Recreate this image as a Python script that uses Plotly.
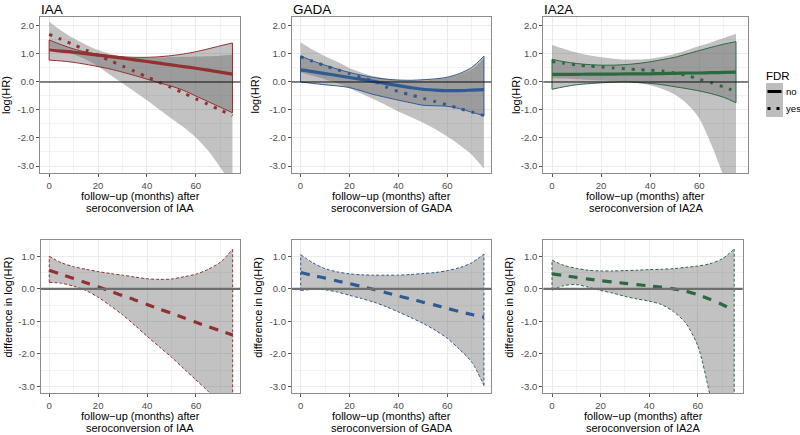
import plotly.graph_objects as go

W, H = 800, 435
FONT = "Liberation Sans, Arial, Helvetica, sans-serif"

# ---------------- data ----------------
months = [0, 5, 10, 15, 20, 25, 30, 35, 40, 45, 50, 55, 60, 65, 70, 75]
markers = ["IAA", "GADA", "IA2A"]
x_ticks = [0, 20, 40, 60]
y_ticks_top = [-3, -2, -1, 0, 1, 2]
y_labels_top = ["-3.0", "-2.0", "-1.0", "0.0", "1.0", "2.0"]
y_ticks_bot = [-3, -2, -1, 0, 1]
y_labels_bot = ["-3.0", "-2.0", "-1.0", "0.0", "1.0"]
fdr_levels = ["no", "yes"]

# top row: log(HR), FDR = no (solid) with CI, FDR = yes (dotted) with CI
iaa_no = [1.15, 1.10, 1.06, 1.01, 0.96, 0.90, 0.85, 0.79, 0.73, 0.67, 0.61, 0.55, 0.49, 0.42, 0.35, 0.28]
iaa_no_hi = [1.50, 1.33, 1.18, 1.07, 0.99, 0.94, 0.90, 0.88, 0.88, 0.90, 0.94, 1.00, 1.08, 1.18, 1.29, 1.39]
iaa_no_lo = [0.78, 0.75, 0.70, 0.63, 0.55, 0.46, 0.35, 0.23, 0.10, -0.03, -0.15, -0.30, -0.50, -0.70, -0.90, -1.10]
iaa_yes = [1.70, 1.52, 1.33, 1.14, 0.95, 0.76, 0.57, 0.38, 0.18, -0.01, -0.20, -0.40, -0.60, -0.80, -1.00, -1.20]
iaa_yes_hi = [2.15, 1.83, 1.56, 1.33, 1.14, 1.00, 0.90, 0.86, 0.86, 0.87, 0.89, 0.90, 0.91, 0.92, 0.94, 0.97]
iaa_yes_lo = [1.25, 1.12, 0.98, 0.80, 0.55, 0.25, -0.05, -0.35, -0.65, -0.98, -1.30, -1.62, -1.98, -2.45, -3.05, -3.70]

gada_no = [0.43, 0.37, 0.30, 0.23, 0.16, 0.09, 0.02, -0.06, -0.13, -0.20, -0.26, -0.29, -0.31, -0.31, -0.29, -0.27]
gada_no_hi = [0.93, 0.75, 0.60, 0.46, 0.34, 0.24, 0.16, 0.10, 0.07, 0.06, 0.08, 0.11, 0.17, 0.30, 0.52, 0.92]
gada_no_lo = [0.00, -0.05, -0.10, -0.14, -0.20, -0.32, -0.45, -0.55, -0.65, -0.74, -0.83, -0.85, -0.87, -0.95, -1.08, -1.20]
gada_yes = [0.90, 0.74, 0.58, 0.44, 0.30, 0.16, 0.03, -0.18, -0.34, -0.46, -0.58, -0.70, -0.82, -0.95, -1.07, -1.20]
gada_yes_hi = [1.42, 1.15, 0.92, 0.72, 0.50, 0.33, 0.20, 0.12, 0.07, 0.04, 0.05, 0.09, 0.15, 0.27, 0.45, 0.85]
gada_yes_lo = [0.35, 0.22, 0.10, -0.05, -0.22, -0.42, -0.62, -0.83, -1.05, -1.25, -1.45, -1.68, -1.95, -2.25, -2.60, -3.10]

ia2a_no = [0.27, 0.27, 0.27, 0.28, 0.28, 0.28, 0.29, 0.29, 0.29, 0.30, 0.31, 0.32, 0.32, 0.33, 0.34, 0.35]
ia2a_no_hi = [0.81, 0.72, 0.66, 0.62, 0.60, 0.60, 0.62, 0.66, 0.72, 0.80, 0.88, 1.00, 1.12, 1.24, 1.35, 1.44]
ia2a_no_lo = [-0.26, -0.17, -0.10, -0.06, -0.03, -0.01, 0.00, -0.02, -0.05, -0.10, -0.17, -0.24, -0.32, -0.42, -0.55, -0.74]
ia2a_yes = [0.73, 0.67, 0.61, 0.57, 0.54, 0.50, 0.47, 0.44, 0.42, 0.39, 0.32, 0.23, 0.10, -0.03, -0.18, -0.35]
ia2a_yes_hi = [1.32, 1.18, 1.05, 0.95, 0.88, 0.83, 0.80, 0.80, 0.83, 0.90, 1.00, 1.13, 1.28, 1.42, 1.57, 1.72]
ia2a_yes_lo = [0.13, 0.12, 0.10, 0.08, 0.05, 0.03, 0.00, -0.04, -0.12, -0.25, -0.45, -0.78, -1.30, -2.25, -3.40, -4.80]

# bottom row: difference in log(HR) with CI
iaa_diff = [0.57, 0.44, 0.32, 0.19, 0.06, -0.07, -0.21, -0.34, -0.48, -0.62, -0.75, -0.89, -1.03, -1.16, -1.29, -1.42]
iaa_diff_hi = [1.00, 0.80, 0.68, 0.60, 0.53, 0.47, 0.42, 0.36, 0.31, 0.29, 0.30, 0.37, 0.45, 0.60, 0.82, 1.22]
iaa_diff_lo = [0.20, 0.17, 0.08, -0.05, -0.26, -0.52, -0.80, -1.12, -1.46, -1.78, -2.10, -2.45, -2.80, -3.15, -3.60, -4.10]

gada_diff = [0.50, 0.41, 0.33, 0.24, 0.16, 0.07, -0.02, -0.12, -0.22, -0.31, -0.41, -0.50, -0.60, -0.70, -0.79, -0.87]
gada_diff_hi = [1.05, 0.80, 0.62, 0.52, 0.46, 0.43, 0.42, 0.42, 0.42, 0.44, 0.47, 0.50, 0.56, 0.65, 0.80, 1.07]
gada_diff_lo = [-0.05, -0.02, -0.03, -0.10, -0.20, -0.30, -0.41, -0.55, -0.71, -0.88, -1.06, -1.27, -1.52, -1.86, -2.25, -2.97]

ia2a_diff = [0.46, 0.41, 0.35, 0.30, 0.25, 0.21, 0.17, 0.13, 0.09, 0.05, 0.00, -0.07, -0.18, -0.32, -0.48, -0.66]
ia2a_diff_hi = [0.88, 0.72, 0.63, 0.57, 0.55, 0.55, 0.56, 0.57, 0.59, 0.60, 0.62, 0.66, 0.70, 0.77, 0.92, 1.22]
ia2a_diff_lo = [-0.04, 0.10, 0.13, 0.05, -0.05, -0.13, -0.23, -0.31, -0.38, -0.48, -0.70, -1.05, -1.75, -3.25, -5.00, -7.00]

# ---------------- style ----------------
colors = {"IAA": "#933030", "GADA": "#2F5A92", "IA2A": "#2B6A3E"}
RIBBON = "rgba(95,95,95,0.38)"

top = {
    "IAA": (iaa_no, iaa_no_lo, iaa_no_hi, iaa_yes, iaa_yes_lo, iaa_yes_hi),
    "GADA": (gada_no, gada_no_lo, gada_no_hi, gada_yes, gada_yes_lo, gada_yes_hi),
    "IA2A": (ia2a_no, ia2a_no_lo, ia2a_no_hi, ia2a_yes, ia2a_yes_lo, ia2a_yes_hi),
}
bottom = {
    "IAA": (iaa_diff, iaa_diff_lo, iaa_diff_hi),
    "GADA": (gada_diff, gada_diff_lo, gada_diff_hi),
    "IA2A": (ia2a_diff, ia2a_diff_lo, ia2a_diff_hi),
}

# panel geometry in pixels (left, right) and axis ranges
top_px = [(40, 240.3), (291.7, 491.3), (543.3, 748.3)]
bot_px = [(40.7, 240), (292, 491.3), (543.3, 742.7)]
top_xr = [[-3.75, 78.2], [-3.6, 78.0], [-3.55, 80.0]]
bot_xr = [[-3.5, 78.0], [-3.56, 78.0], [-3.58, 78.5]]
top_y_px = (16.7, 173)
bot_y_px = (240, 393)
top_yr = [-3.25, 2.33]
bot_yr = [-3.2, 1.5]


def px_x(p):
    return p / W


def px_y(p):
    return 1 - p / H


fig = go.Figure()
SPL = dict(shape="spline", smoothing=0.8)


def ribbon(xa, ya, lo, hi, fill, edge=None, dash=None):
    fig.add_trace(go.Scatter(
        x=months, y=lo, mode="lines", xaxis=xa, yaxis=ya, showlegend=False, hoverinfo="skip",
        line=dict(width=1 if edge else 0, color=edge or "rgba(0,0,0,0)", dash=dash, **SPL)))
    fig.add_trace(go.Scatter(
        x=months, y=hi, mode="lines", xaxis=xa, yaxis=ya, showlegend=False, hoverinfo="skip",
        fill="tonexty", fillcolor=fill,
        line=dict(width=1 if edge else 0, color=edge or "rgba(0,0,0,0)", dash=dash, **SPL)))
    if edge:
        for i in (0, -1):
            fig.add_trace(go.Scatter(
                x=[months[i], months[i]], y=[lo[i], hi[i]], mode="lines", xaxis=xa, yaxis=ya,
                showlegend=False, hoverinfo="skip", line=dict(width=1, color=edge, dash=dash)))


annotations = []
shapes = []

for k, m in enumerate(markers):
    c = colors[m]
    # ---------- top panel ----------
    xa, ya = ("x%d" % (k + 1), "y%d" % (k + 1)) if k else ("x", "y")
    no, no_lo, no_hi, yes, yes_lo, yes_hi = top[m]
    ribbon(xa, ya, yes_lo, yes_hi, RIBBON)
    ribbon(xa, ya, no_lo, no_hi, RIBBON, edge=c)
    fig.add_trace(go.Scatter(x=months, y=yes, mode="lines", xaxis=xa, yaxis=ya, name="yes",
                             showlegend=False, line=dict(color=c, width=3, dash="3px,7px", **SPL)))
    fig.add_trace(go.Scatter(x=months, y=no, mode="lines", xaxis=xa, yaxis=ya, name="no",
                             showlegend=False, line=dict(color=c, width=3.2, **SPL)))
    shapes.append(dict(type="line", xref="%s domain" % xa, yref=ya, x0=0, x1=1, y0=0, y1=0,
                       line=dict(color="#111111", width=1.1), layer="above"))

    # ---------- bottom panel ----------
    xb, yb = "x%d" % (k + 4), "y%d" % (k + 4)
    d, d_lo, d_hi = bottom[m]
    ribbon(xb, yb, d_lo, d_hi, RIBBON, edge=c, dash="3px,2px")
    shapes.append(dict(type="line", xref="%s domain" % xb, yref=yb, x0=0, x1=1, y0=0, y1=0,
                       line=dict(color="#6E6E6E", width=2.2), layer="above"))
    fig.add_trace(go.Scatter(x=months, y=d, mode="lines", xaxis=xb, yaxis=yb, showlegend=False,
                             line=dict(color=c, width=3.2, dash="9px,8px", **SPL)))

# ---------------- axes ----------------
def axis_style(**kw):
    d = dict(showgrid=True, gridcolor="#EBEBEB", gridwidth=1, zeroline=False, automargin=False,
             showline=True, linecolor="#8C8C8C", linewidth=1, mirror=True,
             ticks="outside", ticklen=3, tickwidth=1, tickcolor="#555555",
             tickfont=dict(family=FONT, size=9.6, color="#4D4D4D"))
    d.update(kw)
    return d


def minor(dt):
    return dict(dtick=dt, tick0=0, showgrid=True, gridcolor="#F3F3F3", gridwidth=1, ticks="")


layout = dict(width=W, height=H, margin=dict(l=0, r=0, t=0, b=0, autoexpand=False),
              paper_bgcolor="white", plot_bgcolor="white", showlegend=False)

for k in range(3):
    xn = "xaxis" if k == 0 else "xaxis%d" % (k + 1)
    yn = "yaxis" if k == 0 else "yaxis%d" % (k + 1)
    xid = "x" if k == 0 else "x%d" % (k + 1)
    yid = "y" if k == 0 else "y%d" % (k + 1)
    l, r = top_px[k]
    layout[xn] = axis_style(domain=[px_x(l), px_x(r)], range=top_xr[k], anchor=yid,
                            tickvals=x_ticks, minor=minor(10))
    layout[yn] = axis_style(domain=[px_y(top_y_px[1]), px_y(top_y_px[0])], range=top_yr, anchor=xid,
                            tickvals=y_ticks_top, ticktext=y_labels_top, minor=minor(0.5))
    l, r = bot_px[k]
    layout["xaxis%d" % (k + 4)] = axis_style(domain=[px_x(l), px_x(r)], range=bot_xr[k],
                                             anchor="y%d" % (k + 4), tickvals=x_ticks, minor=minor(10))
    layout["yaxis%d" % (k + 4)] = axis_style(domain=[px_y(bot_y_px[1]), px_y(bot_y_px[0])], range=bot_yr,
                                             anchor="x%d" % (k + 4), tickvals=y_ticks_bot,
                                             ticktext=y_labels_bot, minor=minor(0.5))

# ---------------- text ----------------
def text(s, x, y, size=11, color="black", xanchor="center", yanchor="middle", angle=0):
    annotations.append(dict(text=s, x=px_x(x), y=px_y(y), xref="paper", yref="paper",
                            xanchor=xanchor, yanchor=yanchor, showarrow=False, textangle=angle,
                            font=dict(family=FONT, size=size, color=color)))


for k, m in enumerate(markers):
    l, r = top_px[k]
    text(m, l - 1, 0, size=13.5, xanchor="left", yanchor="top")
    text("follow\u2212up (months) after", (l + r) / 2, top_y_px[1] + 22.5)
    text("seroconversion of %s" % m, (l + r) / 2, top_y_px[1] + 35)
    lb, rb = bot_px[k]
    text("follow\u2212up (months) after", (lb + rb) / 2, bot_y_px[1] + 22.5)
    text("seroconversion of %s" % m, (lb + rb) / 2, bot_y_px[1] + 35)

for xc in (6, 254.5, 516):
    text("log(HR)", xc, 95, angle=-90)
for xc in (7.5, 257.8, 508.8):
    text("difference in log(HR)", xc, 307, angle=-90)

# ---------------- legend (manual, ggplot style) ----------------
text("FDR", 763.5, 76, size=11.5, xanchor="left")
key_y = [(83, 100), (100, 117)]
for (y0, y1), lab in zip(key_y, fdr_levels):
    shapes.append(dict(type="rect", xref="paper", yref="paper", x0=px_x(766), x1=px_x(783),
                       y0=px_y(y1), y1=px_y(y0), fillcolor="#BDBDBD", line=dict(width=0), layer="above"))
    ym = (y0 + y1) / 2
    dash = "solid" if lab == "no" else "3px,6px"
    shapes.append(dict(type="line", xref="paper", yref="paper", x0=px_x(767.5), x1=px_x(781.5),
                       y0=px_y(ym), y1=px_y(ym), line=dict(color="black", width=3, dash=dash),
                       layer="above"))
    text(lab, 783.5, ym, size=9.6, xanchor="left")

layout["annotations"] = annotations
layout["shapes"] = shapes
fig.update_layout(**layout)

fig.write_html("out.html", config={"displayModeBar": False},
               post_script="document.body.style.margin='0';document.body.style.overflow='hidden';")
